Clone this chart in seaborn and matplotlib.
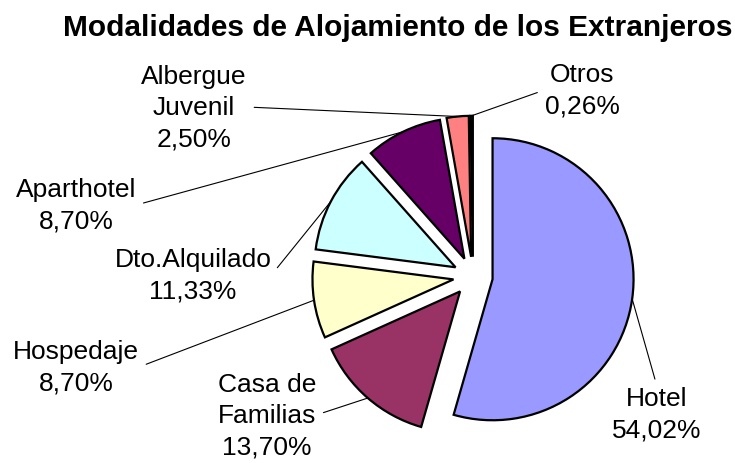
import matplotlib
matplotlib.use("Agg")
import numpy as np
import matplotlib.pyplot as plt
import seaborn as sns

# Data (clockwise from 12 o'clock)
categories = ["Hotel", "Casa de\nFamilias", "Hospedaje", "Dto.Alquilado",
              "Aparthotel", "Albergue\nJuvenil", "Otros"]
percentages = [54.02, 13.70, 8.70, 11.33, 8.70, 2.50, 0.26]
colors = ["#9999FF", "#993366", "#FFFFCC", "#CCFFFF", "#660066", "#FF8080", "#0066CC"]

# label block centers (pixels from top-left) and where the leader line leaves the text
label_pos = [(657, 415), (267, 416), (76, 368), (193, 276), (76, 206), (194, 108), (582, 91)]
label_rel = [(0.5, 1.0), (1.0, 0.5), (1.0, 0.5), (1.0, 0.5), (1.0, 0.5), (1.0, 0.5), (0.0, 0.5)]

sns.set_theme(style="white")
plt.rcParams["font.family"] = ["Liberation Sans", "DejaVu Sans"]
plt.rcParams["text.color"] = "black"

W, H = 735, 464
fig = plt.figure(figsize=(W / 100, H / 100), dpi=100)
ax = fig.add_axes([0, 0, 1, 1])

wedges, _ = ax.pie(percentages, colors=colors, startangle=90, counterclock=False,
                   explode=[0.14] * len(percentages),
                   wedgeprops=dict(edgecolor="black", linewidth=1.6))

# pie centre / radius in pixels
cx, cy, R = 473, H - 277.5, 141
ax.set_xlim(-cx / R, (W - cx) / R)
ax.set_ylim(-cy / R, (H - cy) / R)
ax.axis("off")

for w, cat, pct, (lx, ly), rel in zip(wedges, categories, percentages, label_pos, label_rel):
    theta = np.deg2rad((w.theta1 + w.theta2) / 2)
    x0 = w.center[0] + w.r * np.cos(theta)
    y0 = w.center[1] + w.r * np.sin(theta)
    txt = cat + "\n" + f"{pct:.2f}".replace(".", ",") + "%"
    ax.annotate(txt, xy=(x0, y0), xytext=(lx, H - ly), textcoords="figure pixels",
                ha="center", va="center", fontsize=19, linespacing=1.38, color="black",
                arrowprops=dict(arrowstyle="-", color="black", lw=0.8,
                                relpos=rel, shrinkA=3, shrinkB=0))

fig.text(398 / W, 1 - 28 / H, "Modalidades de Alojamiento de los Extranjeros",
         ha="center", va="center", fontsize=21.5, fontweight="bold", color="black")

fig.savefig("out.png", dpi=100)
